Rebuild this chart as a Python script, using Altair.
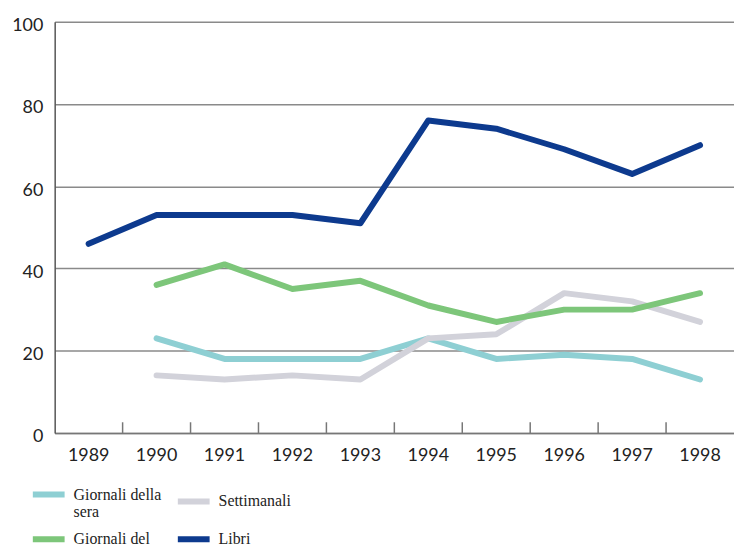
import altair as alt
import pandas as pd

years = ["1989", "1990", "1991", "1992", "1993", "1994", "1995", "1996", "1997", "1998"]
libri = [46, 53, 53, 53, 51, 76, 74, 69, 63, 70]
mattino = [None, 36, 41, 35, 37, 31, 27, 30, 30, 34]
sera = [None, 23, 18, 18, 18, 23, 18, 19, 18, 13]
settimanali = [None, 14, 13, 14, 13, 23, 24, 34, 32, 27]

series_names = ["Giornali della sera", "Settimanali", "Giornali del mattino", "Libri"]
series_colors = ["#8ecfd3", "#d2d2da", "#7dc67a", "#0d3a8e"]
series_vals = [sera, settimanali, mattino, libri]

rows = []
for name, vals in zip(series_names, series_vals):
    for y, v in zip(years, vals):
        if v is not None:
            rows.append({"anno": y, "valore": v, "serie": name})
df = pd.DataFrame(rows)

tick_df = pd.DataFrame({"anno": years[1:]})

x_scale = alt.Scale(domain=years, paddingInner=0, paddingOuter=0)
y_scale = alt.Scale(domain=[0, 100])

label_expr = (
    "datum.label == 'Giornali della sera' ? ['Giornali della', 'sera'] : "
    "datum.label == 'Giornali del mattino' ? ['Giornali del', 'mattino'] : "
    "datum.label"
)

lines = alt.Chart(df).mark_line(strokeWidth=6, strokeCap="round", strokeJoin="round").encode(
    x=alt.X("anno:O", scale=x_scale, sort=years,
            axis=alt.Axis(title=None, labelAngle=0, ticks=False, labelPadding=14,
                          bandPosition=0.5,
                          labelFont="Lato", labelFontSize=18, labelColor="#222",
                          domainColor="#777", domainWidth=1.5, grid=False)),
    y=alt.Y("valore:Q", scale=y_scale,
            axis=alt.Axis(title=None, values=[0, 20, 40, 60, 80, 100], ticks=False,
                          labelFont="Lato", labelFontSize=18, labelColor="#222",
                          labelPadding=12, labelOffset=4,
                          domainColor="#555", domainWidth=1.5,
                          grid=True, gridColor="#8a8a8a", gridWidth=1.5)),
    color=alt.Color("serie:N",
                    scale=alt.Scale(domain=series_names, range=series_colors),
                    legend=alt.Legend(title=None, orient="none", legendX=-25, legendY=457,
                                      direction="horizontal",
                                      columns=2, symbolType="stroke", symbolSize=1024,
                                      symbolStrokeWidth=6, columnPadding=4, rowPadding=-29,
                                      labelFont="Liberation Serif", labelFontSize=16,
                                      labelColor="#222", labelOffset=6,
                                      labelExpr=label_expr,
                                      labelBaseline="middle")),
    order=alt.Order("anno:O"),
)

ticks = alt.Chart(tick_df).mark_rule(color="#777", strokeWidth=1.5).encode(
    x=alt.X("anno:O", scale=x_scale, sort=years, bandPosition=0),
    y=alt.datum(0, scale=y_scale),
    y2=alt.datum(2.6),
)

chart = alt.layer(lines, ticks).properties(
    width=684, height=414,
    padding={"left": 47, "top": 12, "right": 0, "bottom": 122},
    autosize=alt.AutoSizeParams(type="none"),
).configure_view(stroke=None)

chart.save("out.html", embed_options={"renderer": "svg", "actions": False})
